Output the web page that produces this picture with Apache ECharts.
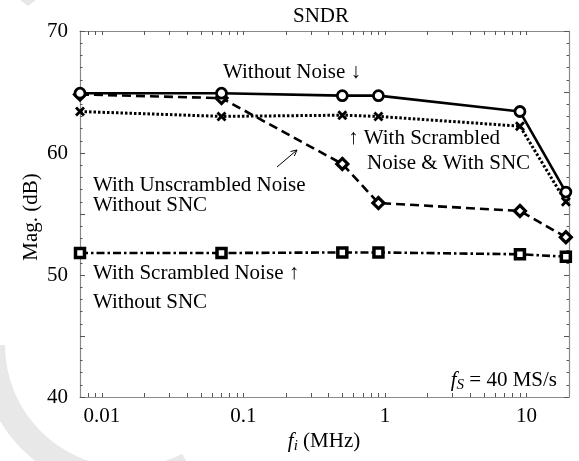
<!DOCTYPE html>
<html><head><meta charset="utf-8">
<script src="https://cdn.jsdelivr.net/npm/echarts@6/dist/echarts.min.js"></script>
<style>html,body{margin:0;padding:0;background:#fff}#c{width:579px;height:461px}</style>
</head><body><div id="c"></div>
<script>
// ---- data ----
const freqs = [0.007, 0.07, 0.5, 0.9, 9, 19];
const withoutNoise = [64.9, 64.9, 64.7, 64.7, 63.4, 56.8];
const scrambledWithSNC = [63.4, 63.0, 63.1, 63.0, 62.2, 56.0];
const unscrambledNoSNC = [64.8, 64.5, 59.1, 55.9, 55.25, 53.1];
const scrambledNoSNC = [51.8, 51.8, 51.85, 51.85, 51.7, 51.5];
const xTickLabels = [0.01, 0.1, 1, 10];
const yTickLabels = [40, 50, 60, 70];
const xMin = 0.007, xMax = 20, yMin = 40, yMax = 70;

const SERIF = '"Liberation Serif", "DejaVu Serif", serif';
const FS = 21;
const lg = v => Math.log10(v);

// minor log ticks (1..9 per decade) in log space
const xTicks = [];
for (let k = -3; k <= 1; k++) for (let d = 1; d <= 9; d++) {
  const v = d * Math.pow(10, k);
  if (v > xMin && v < xMax) xTicks.push(lg(v));
}
const xLabelPos = xTickLabels.map(lg);

function pair(vals) { return freqs.map((f, i) => [f, vals[i]]); }

const axisGray = '#8a8a8a';
const tickCol = '#555';

function tickAxisX(pos, labels) {
  return {
    type: 'value', gridIndex: 0, position: pos,
    min: lg(xMin), max: lg(xMax),
    axisLine: { show: true, onZero: false, lineStyle: { color: axisGray, width: 1.2 } },
    axisTick: { show: true, inside: true, length: 4, customValues: xTicks, lineStyle: { color: tickCol, width: 1 } },
    axisLabel: labels ? {
      show: true, customValues: xLabelPos, margin: 9, color: '#000',
      fontFamily: SERIF, fontSize: FS,
      formatter: v => { const t = xTickLabels.find(t => Math.abs(lg(t) - v) < 1e-6); return t === undefined ? '' : String(t); }
    } : { show: false },
    splitLine: { show: false }
  };
}
function tickAxisY(pos, labels) {
  return {
    type: 'value', gridIndex: 0, position: pos,
    min: yMin, max: yMax, interval: 5,
    axisLine: { show: true, onZero: false, lineStyle: { color: axisGray, width: 1.2 } },
    axisTick: { show: true, inside: true, length: 5, lineStyle: { color: tickCol, width: 1 } },
    minorTick: { show: true, splitNumber: 5, length: 2.5, lineStyle: { color: tickCol, width: 1 } },
    axisLabel: labels ? {
      show: true, margin: 12, color: '#000', fontFamily: SERIF, fontSize: FS,
      formatter: v => yTickLabels.indexOf(v) >= 0 ? String(v) : ''
    } : { show: false },
    splitLine: { show: false }
  };
}

const xSymbol = 'path://M0,2L2,0L5,3L8,0L10,2L7,5L10,8L8,10L5,7L2,10L0,8L3,5Z';

const chart = echarts.init(document.getElementById('c'), null, { renderer: 'canvas' });
chart.setOption({
  animation: false,
  backgroundColor: '#fff',
  grid: { left: 80, right: 10, top: 31, bottom: 64, containLabel: false },
  xAxis: [
    { type: 'log', logBase: 10, gridIndex: 0, min: xMin, max: xMax,
      axisLine: { show: false, onZero: false }, axisTick: { show: false }, axisLabel: { show: false }, splitLine: { show: false } },
    tickAxisX('bottom', true),
    tickAxisX('top', false)
  ],
  yAxis: [tickAxisY('left', true), tickAxisY('right', false)],
  series: [
    { name: 'Without Noise', type: 'line', xAxisIndex: 0, yAxisIndex: 0, clip: false, z: 5,
      data: pair(withoutNoise), symbol: 'circle', symbolSize: 10,
      lineStyle: { color: '#000', width: 2.6, type: 'solid' },
      itemStyle: { color: '#fff', borderColor: '#000', borderWidth: 2.8 } },
    { name: 'With Scrambled Noise & With SNC', type: 'line', xAxisIndex: 0, yAxisIndex: 0, clip: false, z: 4,
      data: pair(scrambledWithSNC), symbol: xSymbol, symbolSize: 10,
      lineStyle: { color: '#000', width: 3, type: [2.5, 2] },
      itemStyle: { color: '#000' } },
    { name: 'With Unscrambled Noise Without SNC', type: 'line', xAxisIndex: 0, yAxisIndex: 0, clip: false, z: 4,
      data: pair(unscrambledNoSNC), symbol: 'diamond', symbolSize: 11,
      lineStyle: { color: '#000', width: 2.6, type: [9, 5] },
      itemStyle: { color: '#fff', borderColor: '#000', borderWidth: 3.2 } },
    { name: 'With Scrambled Noise Without SNC', type: 'line', xAxisIndex: 0, yAxisIndex: 0, clip: false, z: 4,
      data: pair(scrambledNoSNC), symbol: 'rect', symbolSize: 9,
      lineStyle: { color: '#000', width: 2.6, type: [8, 3, 2.5, 3] },
      itemStyle: { color: '#fff', borderColor: '#000', borderWidth: 3.5 } }
  ],
  graphic: [
    // watermark shapes
    { type: 'sector', z: -10, silent: true,
      shape: { cx: 127, cy: 345, r0: 122, r: 148, startAngle: Math.PI * 0.35, endAngle: Math.PI * 1.0, clockwise: true },
      style: { fill: '#e8e8e8' } },
    { type: 'polygon', z: -10, silent: true, shape: { points: [[20, 0], [36, 0], [28, 6]] }, style: { fill: '#e8e8e8' } },
    // title
    { type: 'text', x: 321, y: 16, style: { text: 'SNDR', fontFamily: SERIF, fontSize: FS, fill: '#000', align: 'center', verticalAlign: 'middle' } },
    // y axis name
    { type: 'text', x: 31, y: 217, rotation: Math.PI / 2,
      style: { text: 'Mag. (dB)', fontFamily: SERIF, fontSize: FS, fill: '#000', align: 'center', verticalAlign: 'middle' } },
    // x axis name
    { type: 'text', x: 324, y: 441,
      style: { text: '{i|f}{s|i}{n| (MHz)}', align: 'center', verticalAlign: 'middle',
        rich: {
          i: { fontFamily: SERIF, fontSize: FS, fontStyle: 'italic', fill: '#000', lineHeight: 26 },
          s: { fontFamily: SERIF, fontSize: 15, fontStyle: 'italic', fill: '#000', lineHeight: 15, verticalAlign: 'bottom' },
          n: { fontFamily: SERIF, fontSize: FS, fill: '#000', lineHeight: 26 }
        } } },
    // annotations
    { type: 'text', x: 223, y: 72, style: { text: 'Without Noise \u2193', fontFamily: SERIF, fontSize: FS, fill: '#000', align: 'left', verticalAlign: 'middle' } },
    { type: 'text', x: 348, y: 138, style: { text: '\u2191 With Scrambled', fontFamily: SERIF, fontSize: FS, fill: '#000', align: 'left', verticalAlign: 'middle' } },
    { type: 'text', x: 367, y: 163, style: { text: 'Noise & With SNC', fontFamily: SERIF, fontSize: FS, fill: '#000', align: 'left', verticalAlign: 'middle' } },
    { type: 'text', x: 93, y: 185, style: { text: 'With Unscrambled Noise', fontFamily: SERIF, fontSize: FS, fill: '#000', align: 'left', verticalAlign: 'middle' } },
    { type: 'text', x: 93, y: 205, style: { text: 'Without SNC', fontFamily: SERIF, fontSize: FS, fill: '#000', align: 'left', verticalAlign: 'middle' } },
    { type: 'text', x: 93, y: 273, style: { text: 'With Scrambled Noise \u2191', fontFamily: SERIF, fontSize: FS, fill: '#000', align: 'left', verticalAlign: 'middle' } },
    { type: 'text', x: 93, y: 302, style: { text: 'Without SNC', fontFamily: SERIF, fontSize: FS, fill: '#000', align: 'left', verticalAlign: 'middle' } },
    { type: 'text', x: 557, y: 380,
      style: { text: '{i|f}{s|S}{n| = 40 MS/s}', align: 'right', verticalAlign: 'middle',
        rich: {
          i: { fontFamily: SERIF, fontSize: FS, fontStyle: 'italic', fill: '#000', lineHeight: 26 },
          s: { fontFamily: SERIF, fontSize: 15, fontStyle: 'italic', fill: '#000', lineHeight: 15, verticalAlign: 'bottom' },
          n: { fontFamily: SERIF, fontSize: FS, fill: '#000', lineHeight: 26 }
        } } },
    // pointer arrow
    { type: 'line', shape: { x1: 277, y1: 167, x2: 297, y2: 150 }, style: { stroke: '#000', lineWidth: 1 } },
    { type: 'polyline', shape: { points: [[290.5, 151.5], [297, 150], [294.3, 156]] }, style: { stroke: '#000', lineWidth: 1, fill: null } }
  ]
});
</script>
</body></html>
